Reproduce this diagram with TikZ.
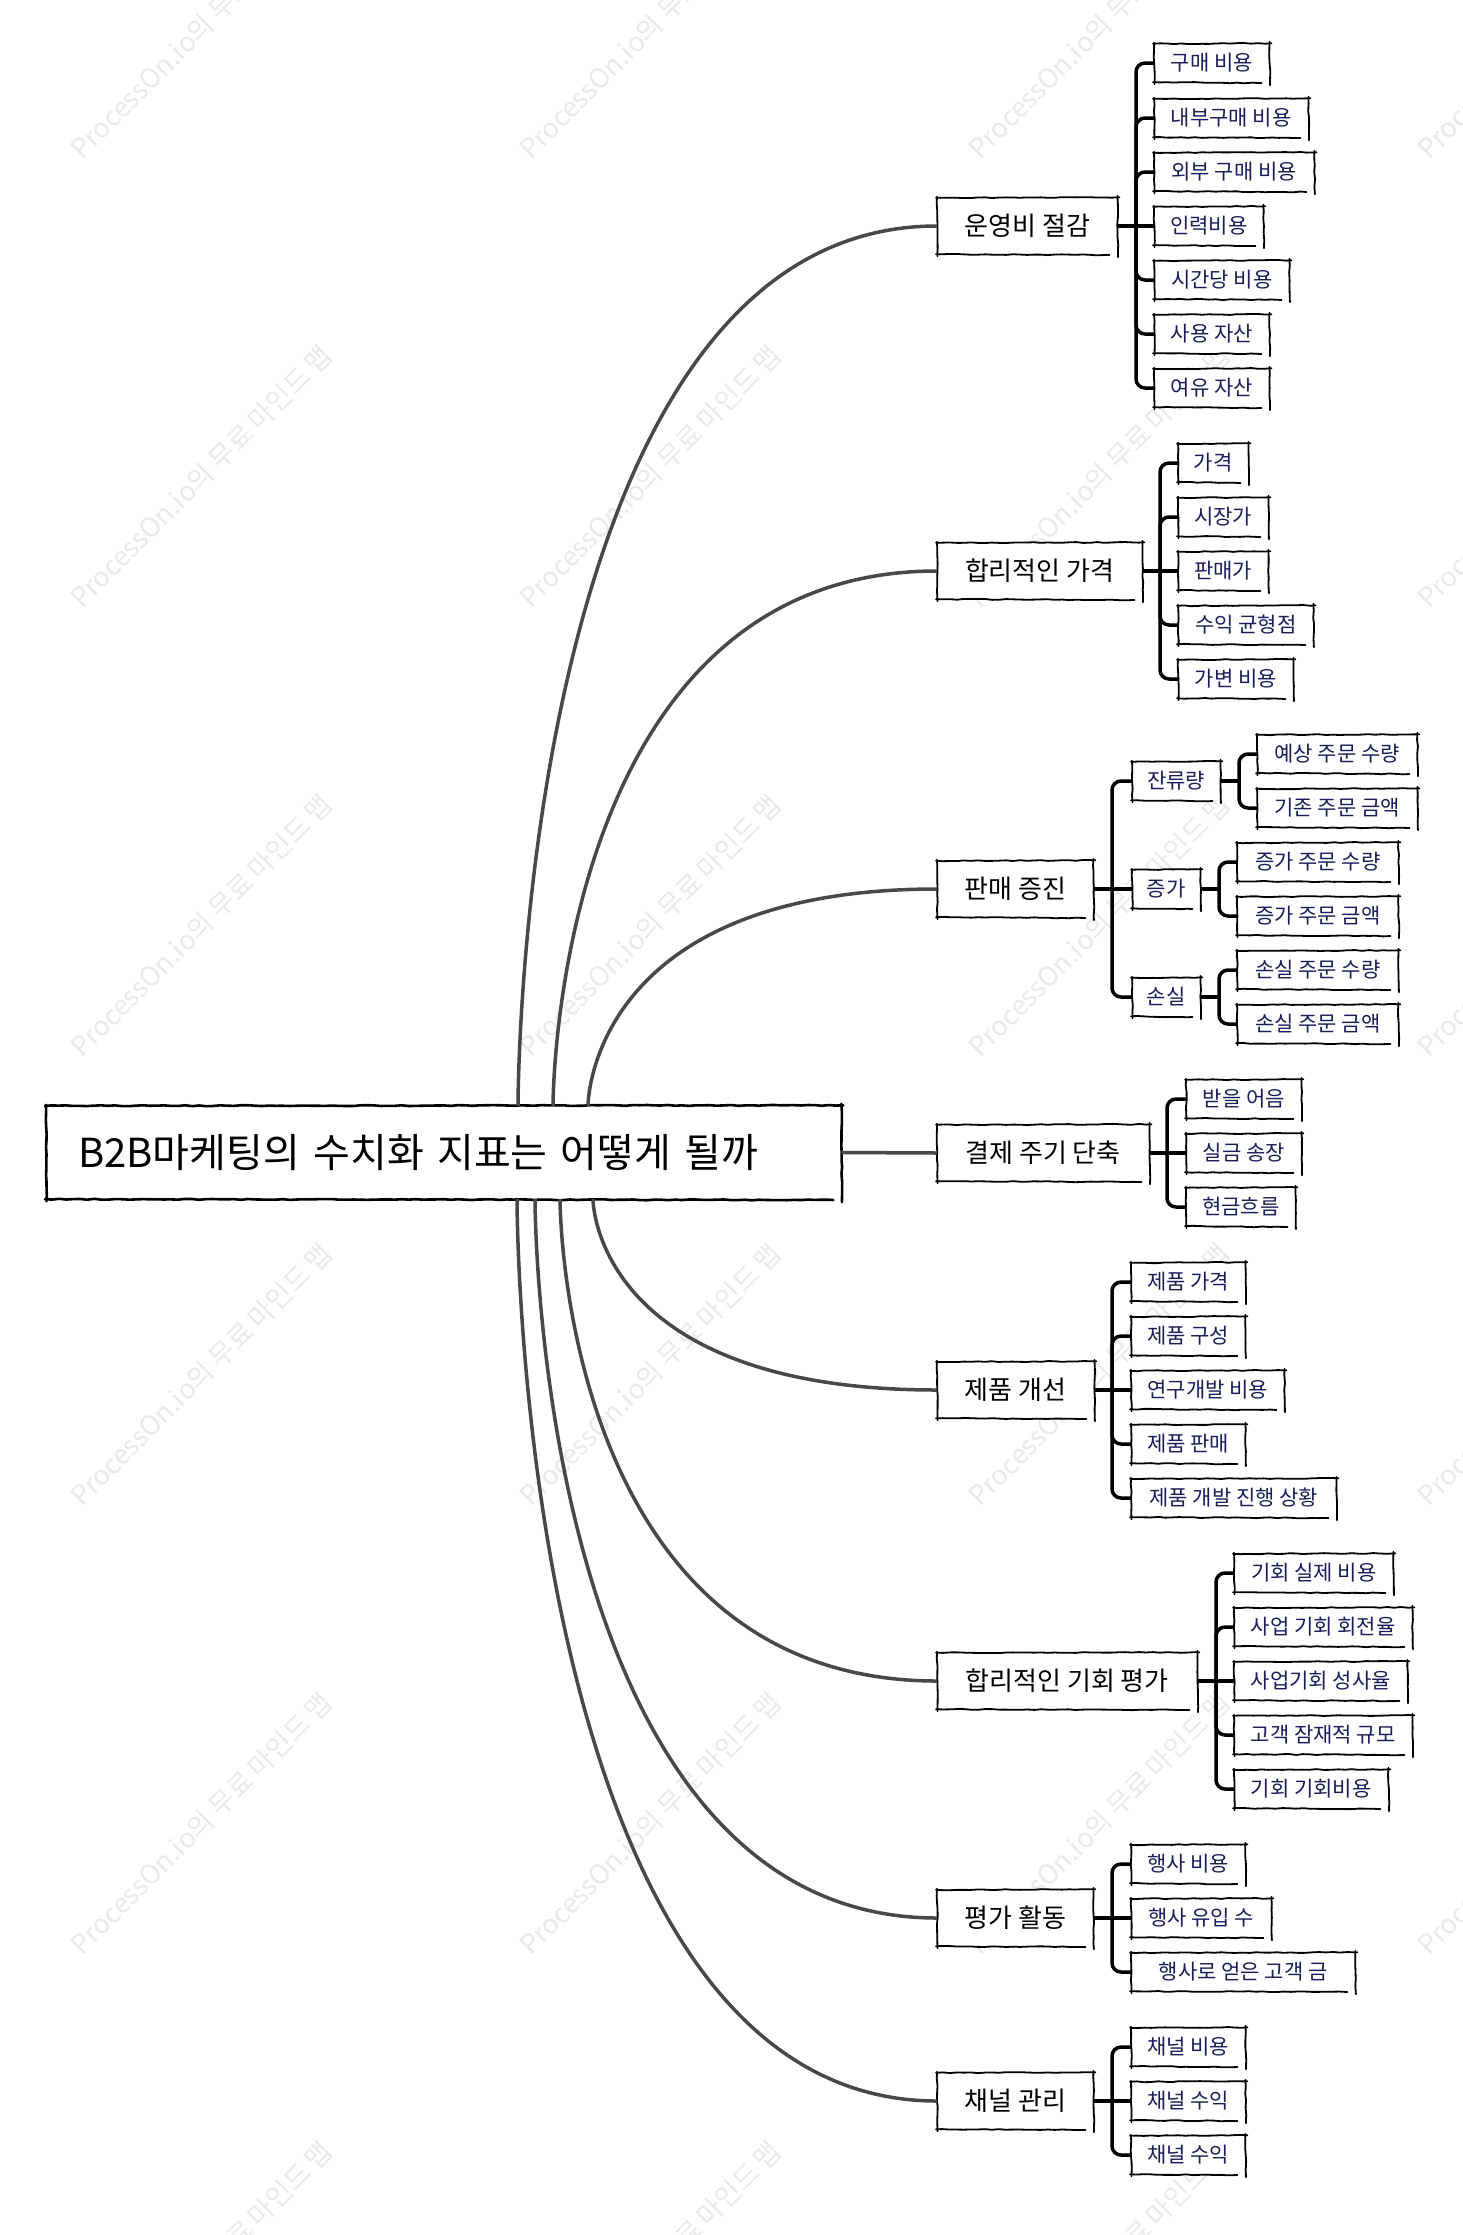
\documentclass[tikz,border=0pt]{standalone}
\usepackage{fontspec}
\setmainfont{Noto Sans CJK KR}
\usetikzlibrary{calc,decorations.pathmorphing}
\definecolor{navy}{RGB}{28,28,90}
\definecolor{conn}{RGB}{72,72,72}
\definecolor{wm}{RGB}{234,234,234}
\tikzset{
  sk/.style={black, line cap=round, decorate, decoration={random steps, segment length=7pt, amplitude=0.45pt}},
  lf/.style={anchor=west, inner sep=0pt, minimum height=38pt, text=navy, font=\fontsize{21}{25}\selectfont, text height=15.5pt, text depth=0pt, fill=white},
  lone/.style={anchor=west, inner sep=0pt, minimum height=56pt, text=black, font=\fontsize{26}{30}\selectfont, text height=19.2pt, text depth=0pt, fill=white},
  curve/.style={conn, line width=3.5pt},
  br/.style={black, line width=3.5pt, rounded corners=9pt},
  wmk/.style={text=wm, rotate=45, anchor=base west, font=\fontsize{27}{31}\selectfont, inner sep=0pt},
}
\newcommand\skb[2][1.8pt]{%
  \draw[sk, line width=#1] ($(#2.north west)+(0,-1)$) -- ($(#2.south west)+(0.5,2)$);
  \draw[sk, line width=#1] ($(#2.north west)+(-1,0)$) -- ($(#2.north east)+(2,-0.5)$);
  \draw[sk, line width=#1] ($(#2.north east)+(0,-2)$) -- ($(#2.south east)+(0.5,3)$);
  \draw[sk, line width=#1] ($(#2.south west)+(-1,0)$) -- ($(#2.south east)+(-8,0.8)$);
}
\newcommand\lfn[5]{\node[lf, minimum width=#3-#2] (#1) at (#2,#4) {#5}; \skb{#1}}
\newcommand\lon[5]{\node[lone, minimum width=#3-#2] (#1) at (#2,#4) {#5}; \skb{#1}}
\newcommand\brk[3]{\draw[br] (#1.east) -- (#2); \foreach \c in {#3} {\draw[br] (#2) |- (\c.west);}}
\begin{document}
\begin{tikzpicture}[x=1pt, y=-1pt]
\pgfmathsetseed{7}
\useasboundingbox (0,0) rectangle (1463,2235);
\fill[white] (0,0) rectangle (1463,2235);
% watermarks
\foreach \wx in {82,531,980,1429} {
  \foreach \wy in {161,610,1059,1508,1957,2406} {
    \node[wmk] at (\wx,\wy) {ProcessOn.io의 무료 마인드 맵};
  }
}
% root
\node[anchor=west, inner xsep=32pt, inner ysep=0pt, minimum height=93pt, text width=731pt, align=left, font=\fontsize{40}{46}\selectfont, text height=29.5pt, text depth=0pt, fill=white] (root) at (46,1152.5) {\mbox{B2B마케팅의 수치화 지표는 어떻게 될까}};
\skb[2.6pt]{root}
% level 1
\lon{n1}{937}{1117}{226}{운영비 절감}
\lon{n2}{937}{1142}{571}{합리적인 가격}
\lon{n3}{937}{1093}{889}{판매 증진}
\lon{n4}{937}{1149}{1153}{결제 주기 단축}
\lon{n5}{937}{1094}{1390}{제품 개선}
\lon{n6}{937}{1197}{1681}{합리적인 기회 평가}
\lon{n7}{937}{1093}{1918}{평가 활동}
\lon{n8}{937}{1093}{2101}{채널 관리}
% curves from root
\coordinate (s1) at ($(root.north west)+(472,0)$);
\coordinate (s2) at ($(root.north west)+(507,0)$);
\coordinate (s3) at ($(root.north west)+(542,0)$);
\coordinate (s5) at ($(root.south west)+(547,0)$);
\coordinate (s6) at ($(root.south west)+(514,0)$);
\coordinate (s7) at ($(root.south west)+(489,0)$);
\coordinate (s8) at ($(root.south west)+(471,0)$);
\draw[curve] (s1) .. controls (s1) and (s1 |- n1.west) .. (n1.west);
\draw[curve] (s2) .. controls (s2) and (s2 |- n2.west) .. (n2.west);
\draw[curve] (s3) .. controls (s3) and (s3 |- n3.west) .. (n3.west);
\draw[curve] (root.east) -- (n4.west);
\draw[curve] (s5) .. controls (s5) and (s5 |- n5.west) .. (n5.west);
\draw[curve] (s6) .. controls (s6) and (s6 |- n6.west) .. (n6.west);
\draw[curve] (s7) .. controls (s7) and (s7 |- n7.west) .. (n7.west);
\draw[curve] (s8) .. controls (s8) and (s8 |- n8.west) .. (n8.west);
% n1 leaves
\lfn{a1}{1154}{1269}{63}{구매 비용}
\lfn{a2}{1154}{1308}{118}{내부구매 비용}
\lfn{a3}{1154}{1314}{172}{외부 구매 비용}
\lfn{a4}{1154}{1263}{226}{인력비용}
\lfn{a5}{1154}{1289}{280}{시간당 비용}
\lfn{a6}{1154}{1269}{334}{사용 자산}
\lfn{a7}{1154}{1269}{388}{여유 자산}
\coordinate (k1) at (1136,226);
\brk{n1}{k1}{a1,a2,a3,a5,a6,a7}
\draw[br] (k1) -- (a4.west);
% n2 leaves
\lfn{b1}{1178}{1248}{463}{가격}
\lfn{b2}{1178}{1268}{517}{시장가}
\lfn{b3}{1178}{1268}{571}{판매가}
\lfn{b4}{1178}{1313}{625}{수익 균형점}
\lfn{b5}{1178}{1293}{679}{가변 비용}
\coordinate (k2) at (1160,571);
\brk{n2}{k2}{b1,b2,b4,b5}
\draw[br] (k2) -- (b3.west);
% n3
\lfn{c1}{1132}{1220}{781}{잔류량}
\lfn{c2}{1132}{1200}{889}{증가}
\lfn{c3}{1132}{1200}{997}{손실}
\coordinate (k3) at (1112,889);
\brk{n3}{k3}{c1,c3}
\draw[br] (k3) -- (c2.west);
\lfn{c11}{1257}{1417}{754}{예상 주문 수량}
\lfn{c12}{1257}{1417}{808}{기존 주문 금액}
\coordinate (k31) at (1239,781);
\brk{c1}{k31}{c11,c12}
\lfn{c21}{1237}{1398}{862}{증가 주문 수량}
\lfn{c22}{1237}{1398}{916}{증가 주문 금액}
\coordinate (k32) at (1219,889);
\brk{c2}{k32}{c21,c22}
\lfn{c31}{1237}{1398}{970}{손실 주문 수량}
\lfn{c32}{1237}{1398}{1024}{손실 주문 금액}
\coordinate (k33) at (1219,997);
\brk{c3}{k33}{c31,c32}
% n4
\lfn{d1}{1186}{1301}{1099}{받을 어음}
\lfn{d2}{1186}{1301}{1153}{실금 송장}
\lfn{d3}{1186}{1295}{1207}{현금흐름}
\coordinate (k4) at (1167,1153);
\brk{n4}{k4}{d1,d3}
\draw[br] (k4) -- (d2.west);
% n5
\lfn{e1}{1131}{1245}{1282}{제품 가격}
\lfn{e2}{1131}{1245}{1336}{제품 구성}
\lfn{e3}{1131}{1284}{1390}{연구개발 비용}
\lfn{e4}{1131}{1245}{1444}{제품 판매}
\lfn{e5}{1131}{1336}{1498}{제품 개발 진행 상황}
\coordinate (k5) at (1112,1390);
\brk{n5}{k5}{e1,e2,e4,e5}
\draw[br] (k5) -- (e3.west);
% n6
\lfn{f1}{1234}{1393}{1573}{기회 실제 비용}
\lfn{f2}{1234}{1412}{1627}{사업 기회 회전율}
\lfn{f3}{1234}{1407}{1681}{사업기회 성사율}
\lfn{f4}{1234}{1412}{1735}{고객 잠재적 규모}
\lfn{f5}{1234}{1388}{1789}{기회 기회비용}
\coordinate (k6) at (1216,1681);
\brk{n6}{k6}{f1,f2,f4,f5}
\draw[br] (k6) -- (f3.west);
% n7
\lfn{g1}{1131}{1245}{1864}{행사 비용}
\lfn{g2}{1131}{1271}{1918}{행사 유입 수}
\lfn{g3}{1131}{1355}{1972}{행사로 얻은 고객 금}
\coordinate (k7) at (1112,1918);
\brk{n7}{k7}{g1,g3}
\draw[br] (k7) -- (g2.west);
% n8
\lfn{h1}{1131}{1245}{2047}{채널 비용}
\lfn{h2}{1131}{1245}{2101}{채널 수익}
\lfn{h3}{1131}{1245}{2155}{채널 수익}
\coordinate (k8) at (1112,2101);
\brk{n8}{k8}{h1,h3}
\draw[br] (k8) -- (h2.west);
\end{tikzpicture}
\end{document}
